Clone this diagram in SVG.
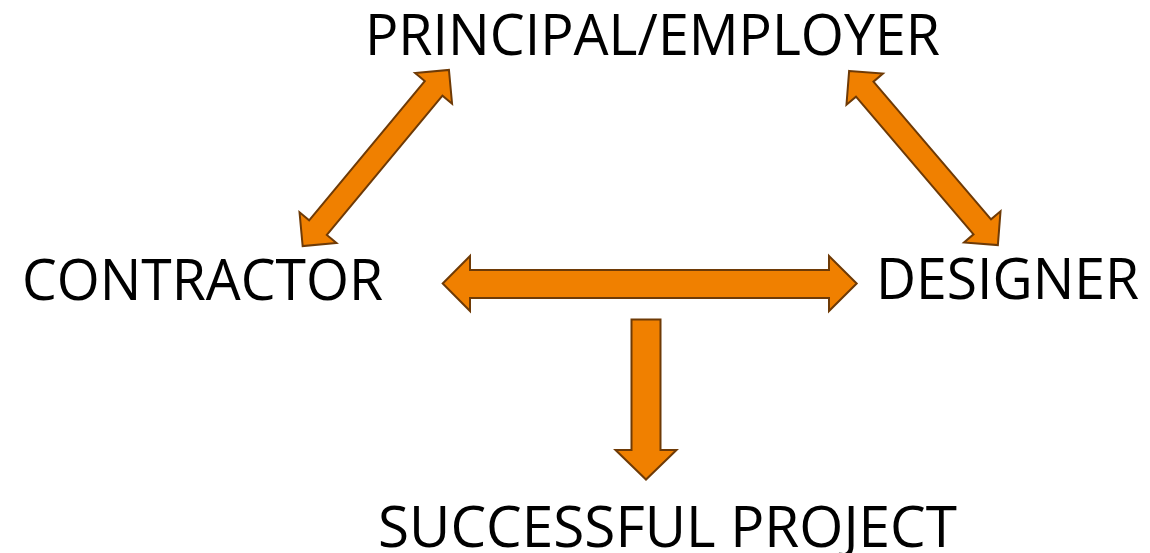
<svg xmlns="http://www.w3.org/2000/svg" width="1150" height="553" viewBox="0 0 1150 553">
<style>
.lbl{font-family:"Open Sans","Liberation Sans",sans-serif;font-size:56px;fill:#000}
.arr{fill:#F08000;stroke:#6E3A06;stroke-width:2;stroke-linejoin:miter}
</style>
<defs>
<polygon id="dbl" points="-114.5,0 -90.5,-24 -90.5,-11.5 90.5,-11.5 90.5,-24 114.5,0 90.5,24 90.5,11.5 -90.5,11.5 -90.5,24"/>
</defs>
<rect width="1150" height="553" fill="#fff"/>
<g id="connectors">
<use href="#dbl" class="arr" transform="translate(375.8,158) rotate(-50.3)"/>
<use href="#dbl" class="arr" transform="translate(923.5,158) rotate(49.5)"/>
<polygon class="arr" points="442.7,283.5 470,256 470,270 829,270 829,256 856.7,283.5 829,311 829,298 470,298 470,311"/>
<polygon class="arr" points="631.5,319.5 660.5,319.5 660.5,450 676.5,450 646,479.5 615.5,450 631.5,450"/>
</g>
<g id="principal"><text class="lbl" x="365" y="55" textLength="575" lengthAdjust="spacingAndGlyphs">PRINCIPAL/EMPLOYER</text></g>
<g id="contractor"><text class="lbl" x="22" y="300" textLength="361" lengthAdjust="spacingAndGlyphs">CONTRACTOR</text></g>
<g id="designer"><text class="lbl" x="876" y="299" textLength="263" lengthAdjust="spacingAndGlyphs">DESIGNER</text></g>
<g id="project"><text class="lbl" x="378" y="547" textLength="579" lengthAdjust="spacingAndGlyphs">SUCCESSFUL PROJECT</text></g>
</svg>
